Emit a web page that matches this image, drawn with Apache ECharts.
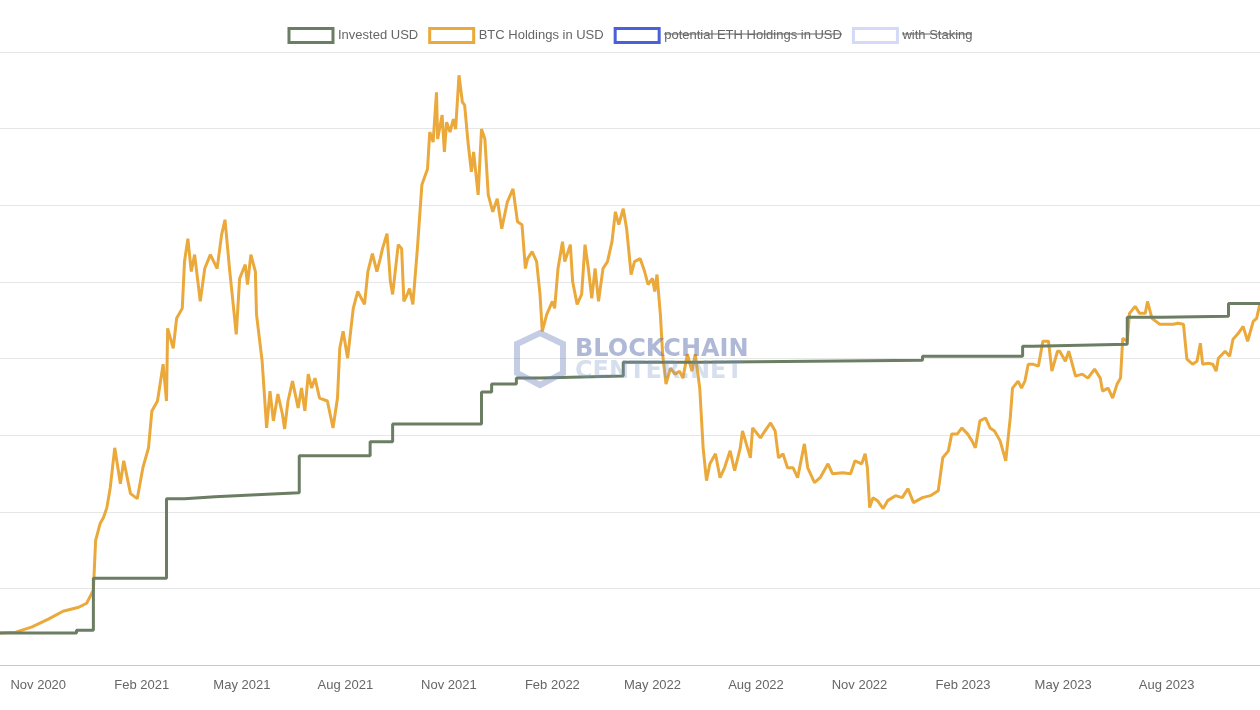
<!DOCTYPE html>
<html>
<head>
<meta charset="utf-8">
<script src="https://cdn.jsdelivr.net/npm/echarts@6/dist/echarts.min.js"></script>
<style>
  html, body { margin: 0; padding: 0; background: #fff; }
  #chart { width: 1260px; height: 710px; }
</style>
</head>
<body>
<div id="chart"></div>
<script>
// start of the plotted period; x positions are days after this date
var startDate = '2020-09-28';
var endDay = 1120;

// invested USD (step line): day offset, cumulative amount
var investedDays = [0, 68, 83, 148, 164, 191, 228, 266, 329, 349, 428, 437, 459, 480, 554, 622, 722, 820, 909, 918, 1002, 1033, 1092, 1120];
var investedValues = [416, 455, 1131, 2171, 2197, 2223, 2249, 2730, 2912, 3146, 3562, 3666, 3744, 3770, 3952, 3965, 3978, 4030, 4160, 4186, 4537, 4550, 4719, 4719];

// BTC holdings value in USD
var btcDays = [0, 14, 28, 43, 56, 70, 77, 83, 85, 89, 92, 95, 98, 102, 107, 110, 116, 122, 127, 132, 135, 140, 145, 148, 149, 154, 157, 162, 164, 167, 170, 173, 178, 182, 187, 193, 197, 200, 204, 207, 210, 213, 218, 220, 223, 227, 228, 233, 237, 240, 243, 247, 251, 253, 256, 260, 265, 268, 271, 274, 277, 280, 284, 291, 296, 300, 302, 305, 309, 314, 318, 324, 327, 331, 335, 338, 340, 344, 347, 349, 354, 357, 359, 362, 364, 367, 371, 375, 380, 382, 385, 388, 389, 393, 395, 397, 400, 403, 405, 408, 411, 413, 416, 419, 421, 425, 428, 431, 434, 438, 442, 446, 451, 456, 460, 464, 467, 469, 473, 477, 480, 482, 486, 491, 493, 496, 500, 502, 507, 509, 513, 517, 520, 523, 526, 529, 532, 536, 540, 544, 547, 550, 554, 557, 561, 564, 569, 573, 576, 580, 582, 584, 587, 589, 592, 596, 600, 604, 607, 611, 615, 618, 622, 625, 628, 631, 636, 640, 644, 649, 653, 658, 660, 667, 669, 676, 680, 685, 689, 692, 696, 700, 705, 709, 715, 718, 724, 729, 736, 740, 749, 756, 760, 766, 769, 771, 773, 776, 780, 785, 789, 796, 802, 807, 812, 820, 827, 834, 838, 843, 846, 851, 855, 860, 864, 867, 871, 876, 880, 884, 889, 894, 898, 900, 905, 908, 911, 914, 918, 923, 927, 932, 935, 940, 942, 947, 950, 956, 962, 967, 973, 978, 980, 985, 989, 993, 996, 998, 1002, 1004, 1009, 1013, 1018, 1020, 1024, 1031, 1037, 1043, 1047, 1052, 1055, 1060, 1064, 1067, 1069, 1074, 1078, 1081, 1083, 1089, 1093, 1096, 1100, 1105, 1109, 1114, 1117, 1120];
var btcValues = [416, 429, 494, 598, 702, 754, 806, 975, 1625, 1846, 1924, 2054, 2314, 2834, 2366, 2665, 2236, 2171, 2574, 2834, 3315, 3445, 3926, 3445, 4394, 4134, 4524, 4654, 5265, 5564, 5135, 5356, 4745, 5174, 5356, 5174, 5616, 5811, 5174, 4745, 4316, 5044, 5226, 4966, 5356, 5135, 4576, 3965, 3094, 3575, 3185, 3536, 3276, 3081, 3445, 3705, 3354, 3614, 3315, 3796, 3614, 3744, 3484, 3445, 3094, 3484, 4134, 4355, 4004, 4654, 4875, 4706, 5135, 5369, 5135, 5304, 5434, 5629, 5005, 4836, 5486, 5434, 4745, 4836, 4914, 4706, 5434, 6266, 6474, 6955, 6825, 7475, 6864, 7176, 6695, 7085, 6955, 7124, 6994, 7696, 7345, 7306, 6825, 6435, 6695, 6136, 6994, 6864, 6136, 5915, 6084, 5694, 6045, 6214, 5785, 5746, 5174, 5304, 5395, 5265, 4836, 4355, 4576, 4745, 4654, 5174, 5525, 5265, 5486, 5005, 4706, 4836, 5486, 5174, 4784, 5174, 4745, 5174, 5265, 5525, 5915, 5746, 5954, 5694, 5096, 5265, 5304, 5135, 4966, 5044, 4875, 5096, 4576, 4056, 3666, 3874, 3796, 3835, 3744, 4056, 3835, 4056, 3614, 2834, 2405, 2626, 2756, 2444, 2574, 2795, 2535, 2834, 3055, 2704, 3094, 2964, 3055, 3159, 3055, 2704, 2756, 2574, 2574, 2444, 2886, 2574, 2379, 2444, 2626, 2496, 2509, 2496, 2665, 2626, 2756, 2574, 2054, 2184, 2145, 2041, 2145, 2210, 2184, 2301, 2119, 2184, 2210, 2275, 2704, 2795, 3016, 3016, 3094, 3016, 2925, 2834, 3185, 3224, 3094, 3055, 2925, 2665, 3224, 3614, 3705, 3614, 3705, 3926, 3926, 3900, 4225, 4225, 3835, 4095, 4095, 3965, 4095, 3770, 3796, 3744, 3861, 3744, 3575, 3614, 3484, 3666, 3744, 4264, 4225, 4589, 4680, 4589, 4589, 4745, 4524, 4446, 4446, 4446, 4459, 4446, 3991, 3926, 3965, 4199, 3926, 3939, 3926, 3835, 4004, 4095, 4030, 4251, 4316, 4420, 4225, 4485, 4524, 4719];

// x axis labels
var labelDates = ['2020-11-01', '2021-02-01', '2021-05-01', '2021-08-01', '2021-11-01', '2022-02-01', '2022-05-01', '2022-08-01', '2022-11-01', '2023-02-01', '2023-05-01', '2023-08-01'];
var monthNames = ['Jan', 'Feb', 'Mar', 'Apr', 'May', 'Jun', 'Jul', 'Aug', 'Sep', 'Oct', 'Nov', 'Dec'];

var DAY = 86400000;
var t0 = Date.UTC(2020, 8, 28);
function toTime(d) { return t0 + d * DAY; }
function pairs(days, vals) {
    return days.map(function (d, i) { return [toTime(d), vals[i]]; });
}
var labelTimes = labelDates.map(function (s) {
    var p = s.split('-');
    return Date.UTC(+p[0], +p[1] - 1, +p[2]);
});

var boxIcon = 'path://M0,0 L44,0 L44,14 L0,14 Z';
var chart = echarts.init(document.getElementById('chart'));
var option = {
    animation: false,
    textStyle: { fontFamily: 'Liberation Sans' },
    legend: {
        top: 22,
        left: 'center',
        itemWidth: 44,
        itemHeight: 14,
        itemGap: 10,
        textStyle: { color: '#666', fontSize: 13 },
        data: [
            { name: 'Invested USD', icon: boxIcon, itemStyle: { color: '#fff', borderColor: '#6b7d63', borderWidth: 3 } },
            { name: 'BTC Holdings in USD', icon: boxIcon, itemStyle: { color: '#fff', borderColor: '#eaa93a', borderWidth: 3 } },
            { name: 'potential ETH Holdings in USD', icon: boxIcon, itemStyle: { color: '#fff', borderColor: '#4a5fd8', borderWidth: 3 } },
            { name: 'with Staking', icon: boxIcon, itemStyle: { color: '#fff', borderColor: '#d3d9f6', borderWidth: 3 } }
        ]
    },
    grid: { left: 0, right: 0, top: 52, bottom: 45 },
    xAxis: {
        type: 'value',
        min: toTime(0),
        max: toTime(endDay),
        axisLine: { lineStyle: { color: '#c8c8c8' } },
        axisTick: { show: false },
        splitLine: { show: false },
        axisLabel: {
            customValues: labelTimes,
            color: '#666',
            fontSize: 13,
            margin: 14,
            formatter: function (v) {
                var d = new Date(v);
                return monthNames[d.getUTCMonth()] + ' ' + d.getUTCFullYear();
            }
        }
    },
    yAxis: {
        type: 'value',
        min: 0,
        max: 8000,
        interval: 1000,
        axisLabel: { show: false },
        axisLine: { show: false },
        axisTick: { show: false },
        splitLine: { lineStyle: { color: '#e6e6e6' } }
    },
    graphic: [
        { type: 'line', shape: { x1: 664, y1: 34, x2: 842, y2: 34 }, style: { stroke: '#666', lineWidth: 1 }, z: 100 },
        { type: 'line', shape: { x1: 902, y1: 34, x2: 972, y2: 34 }, style: { stroke: '#666', lineWidth: 1 }, z: 100 },
        { type: 'text', left: 575, top: 338, style: { text: 'BLOCKCHAIN', fill: 'rgba(95,115,175,0.5)', font: 'bold 24px "DejaVu Sans"' }, z: 100 },
        { type: 'text', left: 575, top: 360, style: { text: 'CENTER.NET', fill: 'rgba(120,150,200,0.3)', font: 'bold 24px "DejaVu Sans"' }, z: 100 },
        { type: 'polygon', shape: { points: [[540, 333], [563, 344], [563, 373], [540, 385], [517, 373], [517, 344]] }, style: { fill: 'none', stroke: 'rgba(110,130,190,0.4)', lineWidth: 6 }, z: 100 }
    ],
    series: [
        {
            name: 'Invested USD', type: 'line', step: 'end', showSymbol: false,
            lineStyle: { color: '#6b7d63', width: 3 }, itemStyle: { color: '#6b7d63' },
            data: pairs(investedDays, investedValues), z: 3
        },
        {
            name: 'BTC Holdings in USD', type: 'line', showSymbol: false,
            lineStyle: { color: '#eaa93a', width: 3 }, itemStyle: { color: '#eaa93a' },
            data: pairs(btcDays, btcValues), z: 2
        },
        { name: 'potential ETH Holdings in USD', type: 'line', data: [], itemStyle: { color: '#4a5fd8' } },
        { name: 'with Staking', type: 'line', data: [], itemStyle: { color: '#d3d9f6' } }
    ]
};
chart.setOption(option);
</script>
</body>
</html>
